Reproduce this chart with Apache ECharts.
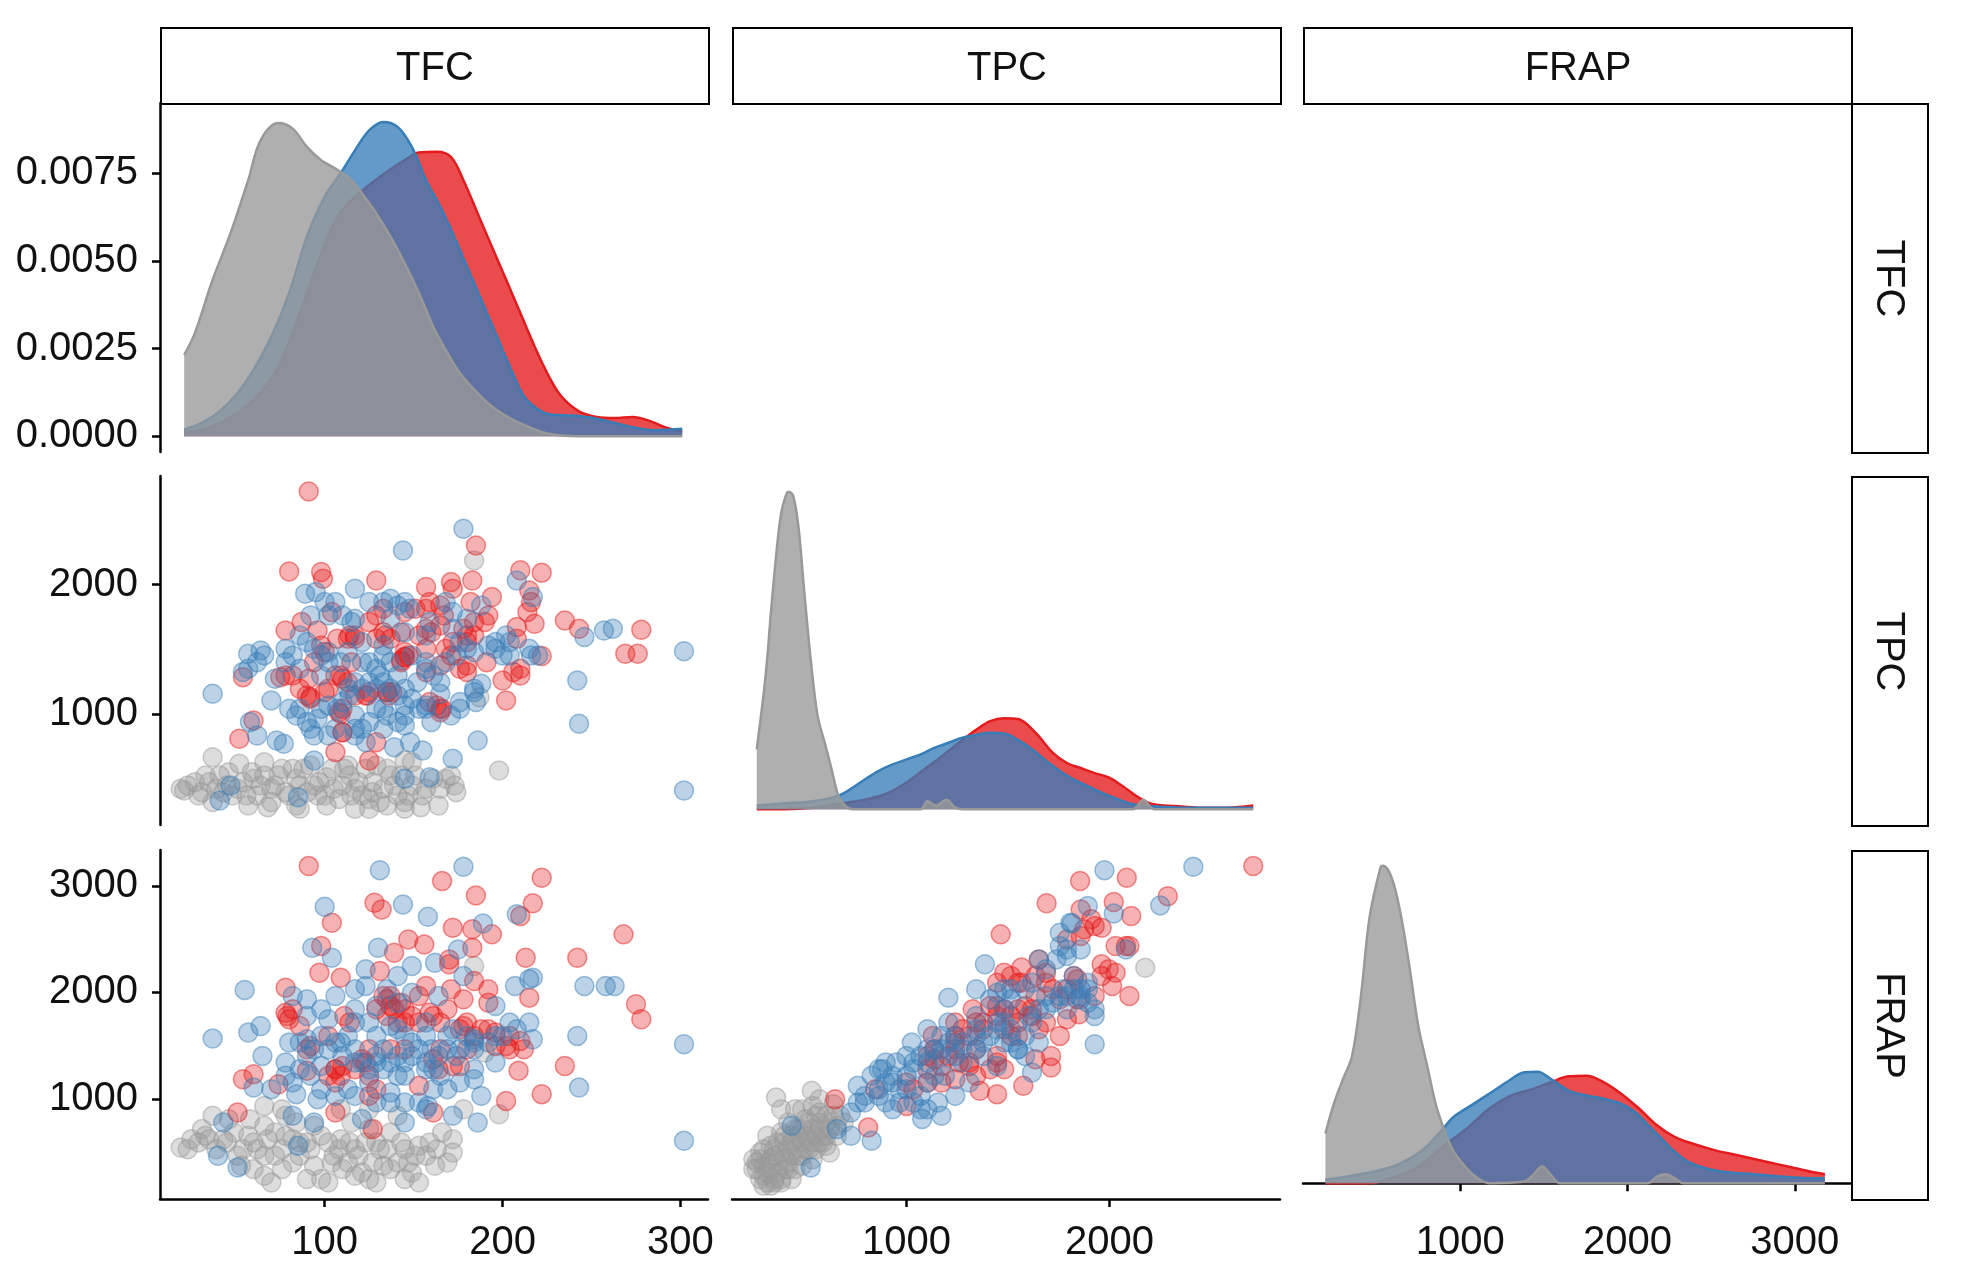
<!DOCTYPE html>
<html>
<head>
<meta charset="utf-8">
<script src="https://cdn.jsdelivr.net/npm/echarts@6/dist/echarts.min.js"></script>
<style>
html, body { margin: 0; padding: 0; background: #fff; }
#main { width: 1969px; height: 1287px; }
</style>
</head>
<body>
<div id="main"></div>
<script>
// variable names (strip labels)
const variables = ['TFC', 'TPC', 'FRAP'];

// tick labels
const tfcTicks = [100, 200, 300];
const tpcTicks = [1000, 2000];
const frapTicks = [1000, 2000, 3000];
const densTicks = [0, 0.0025, 0.005, 0.0075];

// axis ranges (data range + 5%)
const tfcRange = [7.4, 315.5];
const tpcRange = [140, 2840];
const frapRange = [60, 3336];

// density curves, [value, density]
const tfcDensRed = [[21,0.00011],[37,0.00028],[56,0.00085],[72,0.0018],[86,0.00351],[96,0.00493],[106,0.00616],[115,0.00673],[125,0.00716],[135,0.00754],[145,0.00787],[153,0.00809],[163,0.00811],[171,0.00796],[178,0.0073],[186,0.00635],[194,0.0054],[202,0.00446],[210,0.00351],[218,0.00256],[226,0.00171],[233,0.00114],[243,0.00071],[253,0.00055],[263,0.00052],[273,0.00055],[283,0.00043],[292,0.00024],[301,0.00014]];
const tfcDensBlue = [[21,0.00019],[31,0.00038],[41,0.00071],[51,0.00123],[60,0.0019],[70,0.00284],[80,0.00408],[90,0.00569],[100,0.00683],[110,0.00758],[117,0.00815],[125,0.00872],[133,0.00896],[141,0.00882],[149,0.00825],[157,0.0073],[165,0.00654],[172,0.00578],[180,0.00483],[188,0.00389],[196,0.00294],[204,0.00199],[212,0.00114],[220,0.00076],[227,0.00062],[239,0.00059],[251,0.00052],[263,0.00038],[275,0.00024],[286,0.00017],[301,0.00021]];
const tfcDensGray = [[21,0.00232],[27,0.00294],[37,0.00446],[47,0.00578],[57,0.0073],[64,0.00844],[74,0.00893],[82,0.00877],[90,0.00825],[98,0.00787],[106,0.00763],[114,0.00735],[121,0.00692],[129,0.00635],[137,0.00569],[145,0.00493],[153,0.00408],[161,0.00313],[169,0.00237],[176,0.0018],[184,0.00133],[194,0.00085],[204,0.00052],[214,0.00028],[224,0.00009],[233,0.00002],[243,0],[301,0]];

const tpcDensRed = [[262,0],[399,0],[537,0.00002],[657,0.00007],[794,0.00013],[897,0.00021],[1000,0.00037],[1086,0.00055],[1172,0.00073],[1258,0.00092],[1343,0.0011],[1412,0.00122],[1481,0.00126],[1549,0.00125],[1635,0.00106],[1721,0.00078],[1790,0.00064],[1858,0.00057],[1927,0.0005],[1996,0.00044],[2064,0.00032],[2133,0.00018],[2201,0.00008],[2270,0.00005],[2339,0.00004],[2459,0.00002],[2579,0.00002],[2708,0.00005]];
const tpcDensBlue = [[262,0.00005],[399,0.00008],[537,0.00011],[657,0.00018],[725,0.00028],[794,0.00041],[863,0.00053],[931,0.00062],[1000,0.00069],[1069,0.00076],[1137,0.00085],[1206,0.00092],[1275,0.00099],[1343,0.00103],[1412,0.00106],[1481,0.00105],[1549,0.00096],[1618,0.00083],[1687,0.00067],[1755,0.00053],[1824,0.00041],[1893,0.00032],[1961,0.00023],[2030,0.00015],[2099,0.00008],[2167,0.00005],[2270,0.00003],[2373,0.00002],[2545,0.00002],[2708,0.00002]];
const tpcDensGray = [[262,0.00083],[296,0.0016],[314,0.0021],[331,0.0027],[357,0.0035],[382,0.0041],[408,0.00437],[420,0.0044],[442,0.00434],[468,0.0039],[494,0.00308],[528,0.00207],[562,0.00129],[597,0.00092],[631,0.00055],[665,0.00018],[700,0.00004],[734,0],[1069,0],[1103,0.00011],[1146,0.00005],[1197,0.00013],[1240,0.00002],[1275,0],[2116,0],[2167,0.00013],[2219,0],[2708,0]];

const frapDensRed = [[194,0],[458,0],[590,0.0000375],[749,0.000125],[908,0.000288],[1040,0.000413],[1172,0.000563],[1304,0.000663],[1436,0.000713],[1542,0.000763],[1647,0.000808],[1753,0.000813],[1859,0.000763],[1964,0.000675],[2070,0.000563],[2176,0.000438],[2281,0.00035],[2387,0.0003],[2519,0.00025],[2651,0.000213],[2783,0.000175],[2915,0.000138],[3048,0.0001],[3180,0.0000675]];
const frapDensBlue = [[194,0.000025],[326,0.00005],[485,0.0000875],[643,0.00015],[775,0.00025],[881,0.000388],[960,0.0005],[1066,0.000588],[1172,0.000675],[1277,0.000763],[1383,0.000838],[1462,0.000843],[1542,0.000788],[1647,0.0007],[1753,0.000663],[1859,0.000638],[1964,0.0006],[2044,0.000538],[2123,0.000438],[2202,0.000338],[2281,0.000238],[2361,0.000163],[2466,0.000113],[2598,0.0000825],[2757,0.0000675],[2915,0.00005],[3074,0.0000375],[3180,0.0000375]];
const frapDensGray = [[194,0.000375],[247,0.00061],[300,0.00079],[353,0.00096],[406,0.00141],[458,0.00201],[524,0.00239],[538,0.0024],[590,0.00231],[643,0.00204],[696,0.00164],[749,0.00119],[802,0.00089],[855,0.00059],[908,0.00039],[960,0.00024],[1013,0.00015],[1066,0.000075],[1119,0.000025],[1172,0],[1383,0.0000125],[1436,0.0000625],[1489,0.000125],[1542,0.0000625],[1594,0],[2123,0],[2176,0.00005],[2229,0.0000675],[2281,0.0000375],[2334,0],[3180,0]];

// scatter points, [x, y]
const tfcTpcRed = [[91,2721],[185,2303],[80,2102],[98,2097],[99,2045],[129,2032],[157,1981],[171,2019],[172,1968],[183,2032],[210,2110],[222,2092],[194,1903],[215,1955],[216,1865],[214,1787],[218,1697],[235,1723],[243,1658],[278,1650],[269,1465],[276,1465],[222,1447],[210,1349],[200,1258],[202,1104],[78,1645],[87,1710],[54,1284],[52,807],[60,949],[75,1284],[106,704],[125,639],[110,858],[109,1000],[124,1142],[138,1168],[145,1439],[143,1632],[157,1503],[165,1374],[165,1013],[113,1581],[104,1787],[96,1645],[129,1581],[178,1658],[190,1710],[208,1581],[129,781],[92,1129],[102,1194],[82,1297],[117,1607],[134,1607],[145,1478],[143,1400],[160,1632],[168,1503],[180,1607],[191,1400],[176,1349],[117,1142],[135,1168],[109,1297],[94,1400],[180,1323],[107,1581],[125,1710],[151,1813],[192,1761],[208,1671],[165,1684],[157,1323],[159,1091],[166,1039],[86,1194],[91,1271],[113,1245],[172,1555],
    [114,1607],[117,1581],[145,1439],[143,1413],[147,1452],[133,1632],[137,1581],[157,1813],[159,1865],[165,1839],[184,1607],[180,1555],[125,1168],[123,1142],[108,1013],[110,1039],[135,1168],[136,1142],[110,858],[110,1271],[106,1297],[78,1297],[90,1142],[92,1116],[100,1168],[182,1865],[184,1710],[171,1452],[206,1323],[210,1297],[165,1039],[163,1065],[180,1374],[167,1761],[133,1813],[129,1761],[145,1787],[98,1529],[100,1478],[115,1400],[153,1607],[157,1658]];
const tfcTpcBlue = [[178,2432],[144,2264],[208,2032],[117,1968],[89,1929],[95,1942],[217,1903],[257,1645],[262,1658],[246,1594],[302,1485],[242,1258],[243,923],[302,407],[37,1155],[57,1465],[64,1490],[54,1323],[70,1104],[73,794],[77,768],[94,639],[139,742],[155,716],[172,652],[186,794],[145,497],[159,510],[41,329],[47,446],[85,355],[176,1091],[185,1091],[188,1233],[165,1155],[58,936],[62,832],[80,1039],[84,987],[92,884],[102,832],[117,987],[125,936],[133,1039],[145,910],[157,1039],[123,781],[117,884],[145,1065],[129,1194],[98,1297],[86,1349],[78,1503],[90,1555],[102,1478],[109,1400],[121,1400],[131,1297],[141,1297],[152,1245],[117,1736],[125,1865],[137,1890],[148,1813],[168,1865],[172,1787],[188,1839],[196,1555],[204,1555],[215,1503],[200,1452],[184,1478],[174,1452],[157,1607],[145,1632],[133,1529],[121,1555],[113,1478],[102,1761],[92,1761],[100,1865],[137,1736],[159,1710],[180,1736],[168,1400],[157,1400],[113,1194],[160,936],[184,1194],[72,1271],[133,884],[148,781],[107,1039],[96,962],
    [125,1400],[129,1349],[133,1245],[137,1194],[141,1142],[145,1194],[149,1116],[153,1039],[157,1065],[125,1245],[121,1194],[117,1245],[114,1142],[110,1091],[102,1400],[98,1452],[94,1503],[86,1607],[82,1452],[78,1400],[62,1400],[66,1452],[57,1349],[110,1761],[115,1710],[106,1865],[133,1865],[141,1839],[145,1865],[172,1658],[176,1555],[180,1503],[192,1529],[196,1503],[202,1607],[204,1452],[216,1452],[220,1452],[157,1349],[161,1297],[165,1245],[145,987],[141,936],[135,987],[129,1039],[121,884],[117,832],[106,884],[94,832],[90,936],[86,1039],[98,1039],[102,1065],[184,1168],[176,1039],[171,987],[149,1452],[133,1452],[137,1400]];
const tfcTpcGray = [[184,2187],[187,1129],[198,562],[37,665],[21,407],[27,471],[33,523],[39,420],[46,549],[52,613],[56,368],[64,446],[66,626],[68,278],[74,523],[78,394],[82,575],[86,446],[92,600],[96,368],[101,510],[105,420],[111,575],[115,368],[119,471],[125,265],[129,600],[133,420],[137,523],[141,368],[145,639],[149,446],[154,278],[157,420],[164,291],[168,497],[173,446],[19,420],[43,394],[60,497],[70,420],[90,394],[97,471],[110,446],[121,368],[113,600],[127,394],[145,317],[54,471],[84,291],[101,291],[117,265],[135,291],[48,368],[31,394],
    [23,446],[29,368],[35,471],[41,523],[45,446],[51,420],[59,549],[62,368],[66,523],[72,446],[76,575],[80,368],[84,497],[88,575],[94,446],[100,368],[104,575],[108,342],[114,523],[117,420],[123,575],[127,471],[131,317],[135,575],[139,446],[143,523],[147,368],[151,523],[155,368],[161,497],[165,420],[171,523],[174,394],[149,626],[125,342],[86,265],[57,291],[70,317],[37,317],[145,265]];

const tfcFrapRed = [[91,3185],[166,3044],[222,3075],[185,2910],[217,2835],[210,2716],[128,2841],[132,2778],[104,2653],[172,2606],[183,2591],[194,2544],[147,2497],[156,2450],[268,2544],[242,2325],[213,2325],[139,2372],[183,2419],[98,2435],[97,2184],[109,2138],[131,2200],[170,2263],[184,2106],[192,2028],[215,1950],[275,1888],[278,1747],[78,2044],[79,1778],[111,1778],[135,1935],[143,1903],[159,1810],[178,1685],[202,1497],[210,1544],[209,1263],[235,1309],[222,1044],[202,981],[54,1184],[60,1231],[74,1137],[51,872],[90,1263],[106,872],[106,1278],[125,1028],[127,716],[121,1372],[137,1966],[145,1716],[164,1278],[176,1309],[161,872],[153,1122],[192,1653],[196,1497],[157,2059],[170,2309],[139,1841],[125,1466],[92,1497],[109,1216],[137,1466],[178,1935],[86,1685],[102,1591],
    [133,1966],[137,1872],[135,1778],[145,1841],[149,1778],[153,1716],[141,1716],[129,1841],[161,1778],[165,1716],[176,1653],[180,1716],[184,1591],[188,1653],[180,1466],[196,1622],[204,1591],[212,1466],[106,1278],[110,1309],[102,1216],[117,1278],[123,1341],[125,1216],[106,1153],[153,1966],[169,1841],[171,2028],[78,1809],[80,1747],[82,1841],[114,1716],[165,1466],[161,1372],[90,1466],[172,1309],[192,1903],[204,1466],[145,1466],[129,1091]];
const tfcFrapBlue = [[131,3147],[178,3178],[100,2803],[144,2825],[158,2710],[189,2647],[208,2732],[93,2419],[104,2325],[130,2419],[175,2403],[217,2138],[246,2059],[258,2059],[263,2059],[55,2022],[37,1566],[57,1622],[64,1684],[242,1591],[302,1513],[243,1106],[302,606],[65,1403],[43,778],[40,466],[51,356],[85,559],[94,778],[123,2216],[188,1028],[186,778],[172,841],[158,934],[145,778],[121,810],[217,1560],[215,1716],[207,2059],[196,1872],[184,1560],[184,1278],[174,1403],[160,1466],[149,1528],[141,1653],[129,1341],[117,1341],[113,1591],[102,1466],[90,1560],[80,1528],[78,1341],[70,1091],[60,1106],[84,1044],[96,997],[113,1091],[137,1059],[145,1216],[117,1841],[129,1872],[149,1997],[164,1966],[106,1966],[90,1935],[123,2059],[141,2153],[162,2278],[149,2247],[102,1747],[129,1591],[157,1716],[172,1653],[204,1716],[196,1341],[184,1466],[157,1278],[92,1216],[125,1153],[164,1403],[117,2028],[135,2028],[109,1528],[141,1403],[82,841],[98,1309],[133,1466],[178,2153],[196,1591],[215,2122],[153,966],
    [86,1528],[90,1403],[94,1466],[98,1591],[106,1528],[110,1403],[117,1466],[121,1341],[125,1278],[129,1403],[133,1278],[137,1341],[141,1216],[145,1341],[149,1403],[153,1466],[157,1341],[161,1278],[165,1216],[169,1466],[176,1466],[180,1591],[184,1528],[192,1528],[200,1591],[208,1653],[78,1216],[82,1153],[86,1278],[98,1091],[106,1028],[117,1028],[129,966],[137,966],[145,966],[157,903],[161,1091],[169,1091],[176,1153],[184,1184],[137,1684],[125,1716],[117,1716],[145,1591],[157,1591],[169,1591],[98,1841],[90,1778],[82,1966],[141,1903]];
const tfcFrapGray = [[184,2247],[198,856],[19,544],[25,622],[31,716],[37,841],[43,622],[49,684],[54,528],[60,591],[66,934],[66,278],[70,215],[72,684],[76,528],[78,841],[82,622],[86,466],[90,591],[94,372],[98,247],[102,591],[105,466],[109,622],[113,403],[117,528],[121,309],[125,716],[129,591],[133,372],[137,684],[141,403],[145,528],[149,309],[153,215],[157,466],[162,372],[166,684],[172,622],[178,903],[190,1435],[58,809],[76,903],[84,778],[102,215],[125,247],[137,341],[46,809],[33,653],[109,903],[94,747],[153,559],[117,278],[66,466],[141,841],
    [23,528],[29,591],[35,622],[39,528],[45,591],[51,466],[57,653],[62,528],[68,622],[72,466],[78,653],[82,403],[86,591],[92,528],[98,653],[104,403],[108,528],[114,591],[119,466],[123,591],[127,403],[131,528],[135,528],[143,591],[147,403],[151,466],[159,591],[163,528],[169,403],[172,497],[53,372],[60,341],[76,341],[90,247],[110,341],[129,215],[145,247],[66,747],[115,778],[125,903]];

const tpcFrapRed = [[2708,3185],[1855,3044],[2085,3075],[1690,2835],[2021,2847],[2107,2716],[2287,2903],[1464,2544],[1858,2778],[1910,2685],[1961,2606],[1790,2497],[2030,2435],[2081,2435],[1961,2263],[2030,2184],[2098,1966],[1841,2122],[1850,1794],[1481,2184],[1566,2232],[1652,2309],[1687,2091],[1755,1935],[1618,1841],[1549,1716],[1446,1872],[1326,1841],[1240,1716],[1378,1716],[1129,1591],[1240,1528],[1137,1372],[1258,1341],[1446,1403],[1481,1278],[1635,1372],[1712,1403],[1712,1294],[1755,1591],[1575,1122],[1446,1044],[1361,1075],[1240,1184],[1172,1153],[1000,934],[846,1091],[648,997],[811,731],[2098,2435],[1103,1278],[1343,1466],[1515,1591],[1549,2091],[1446,2091],[1635,1966],[1309,1309],[1000,1153],[1841,1935],[1927,1966],[1790,1747],
    [1412,1872],[1446,1778],[1481,1841],[1515,1778],[1549,1841],[1584,1872],[1618,1778],[1652,1653],[1687,1716],[1549,1591],[1481,1653],[1378,1653],[1343,1716],[1309,1591],[1275,1653],[1240,1466],[1206,1403],[1172,1309],[1103,1403],[1137,1466],[1309,1341],[1343,1216],[1412,1278],[1446,1341],[1515,2153],[1566,2091],[1635,2153],[1687,2184],[1721,2028],[1790,2028],[1824,2153],[1858,2528],[1875,2591],[1927,2622],[1961,2153],[1996,2216],[2013,2059],[1103,1153],[1034,1091],[1240,1591]];
const tpcFrapBlue = [[2413,3178],[1975,3147],[2250,2816],[2021,2741],[1893,2810],[1815,2647],[2081,2403],[1386,2263],[1790,2403],[1738,2309],[1206,1950],[1343,2028],[1927,1778],[1927,1513],[1893,2091],[1618,1247],[1026,1528],[760,1122],[828,606],[528,356],[1077,810],[949,1341],[897,1153],[966,966],[1069,1028],[1155,966],[1240,1028],[1103,1153],[1172,1403],[1275,1528],[1343,1591],[1446,1716],[1515,1653],[1549,1466],[1481,1528],[1412,1935],[1515,2028],[1618,2091],[1687,1966],[1772,2028],[1858,1935],[1652,2309],[1755,2435],[794,966],[726,872],[880,1278],[1034,1278],[1189,1216],[1309,1153],[1446,1309],[1584,1403],[1652,1528],[1601,1778],[1481,1841],[1343,1778],[1240,1591],[1137,1466],[1000,1403],[863,1091],[931,1216],[1103,903],[657,716],[726,653],[434,747],[1481,2028],[1824,2153],[1103,1653],[1206,1716],[1790,1841],[1858,2028],[1378,1403],[1172,841],[1000,1091],[1275,1341],[1687,2216],
    [828,1216],[863,1278],[897,1341],[931,1153],[966,1091],[1000,1216],[1034,1341],[1069,1403],[1103,1341],[1137,1216],[1172,1466],[1206,1528],[1240,1403],[1275,1466],[1343,1653],[1378,1528],[1412,1591],[1446,1653],[1481,1716],[1515,1528],[1549,1466],[1584,1591],[1618,1716],[1652,1841],[1687,1841],[1721,1903],[1755,1966],[1790,1966],[1824,2028],[1858,1966],[1893,2028],[897,966],[931,903],[1034,966],[1069,903],[794,1028],[760,966],[863,1028],[1858,2403],[1790,2341],[1755,2560],[1807,2653],[1927,1841],[1893,1903],[1172,1591],[1103,1466],[1515,1935],[1446,1997],[1584,2028],[1343,1466]];
const tpcFrapGray = [[2176,2231],[357,1012],[533,1075],[640,950],[451,903],[262,403],[296,278],[331,184],[382,215],[279,497],[314,653],[348,528],[399,591],[434,466],[468,653],[502,528],[537,716],[571,591],[605,778],[622,497],[485,372],[417,341],[365,403],[554,841],[502,809],[451,716],[382,684],[331,434],[296,372],[537,434],[588,653],[485,591],[417,528],[365,309],[434,247],[245,341],[314,215],[691,778],[657,653],[571,778],[520,622],[468,466],[399,434],[348,247],[279,247],[605,559],[485,903],[537,934],[571,997],[417,778],[382,903],[640,841],[331,341],[434,653],[554,528],
    [262,341],[279,434],[296,528],[314,403],[331,559],[348,466],[365,591],[382,497],[399,653],[417,403],[434,591],[451,528],[468,716],[485,466],[502,653],[520,528],[537,591],[554,653],[571,716],[588,591],[605,653],[622,716],[657,747],[674,841],[399,341],[348,215],[296,184],[451,341],[520,778],[485,716],[571,872],[605,841],[382,247],[314,309],[245,434]];

// layout
const colLeft = [160, 732, 1303];
const rowTop = [103, 476, 850];
const panelW = 548;
const panelH = 349;
const stripSize = 76;
const font = "'Liberation Sans', Arial, sans-serif";
const fontSize = 40;
const colors = { red: '#E41A1C', blue: '#377EB8', gray: '#999999' };

function rgba(hex, a) {
    const n = parseInt(hex.slice(1), 16);
    return `rgba(${n >> 16},${(n >> 8) & 255},${n & 255},${a})`;
}

// grids: [row, col]
const cells = [[0, 0], [1, 0], [1, 1], [2, 0], [2, 1], [2, 2]];
const grids = cells.map(([r, c]) => ({
    left: colLeft[c], top: rowTop[r], width: panelW, height: panelH
}));

const varRange = [tfcRange, tpcRange, frapRange];
const varTicks = [tfcTicks, tpcTicks, frapTicks];
const densRange = [[-0.00045, 0.0095], [-0.00022, 0.00462], [-0.00012, 0.00252]];

function axis(gridIndex, range, ticks, show, margin, fmt) {
    return {
        type: 'value', gridIndex, min: range[0], max: range[1],
        axisLine: { show, lineStyle: { color: '#000', width: 2.5 } },
        axisTick: { show, length: 8, lineStyle: { color: '#000', width: 2.5 }, customValues: ticks },
        axisLabel: {
            show, customValues: ticks, fontSize, color: '#111', fontFamily: font,
            margin, formatter: fmt || (v => String(v))
        },
        splitLine: { show: false }
    };
}

const xAxes = cells.map(([r, c], i) => axis(i, varRange[c], varTicks[c], r === 2, 24));
const yAxes = cells.map(([r, c], i) => {
    if (r === c) {
        if (c === 0) return axis(i, densRange[0], densTicks, true, 22, v => v.toFixed(4));
        return axis(i, densRange[c], [], false, 22);
    }
    return axis(i, varRange[r], varTicks[r], c === 0, 22);
});

function dens(i, data, col, z) {
    return {
        type: 'line', xAxisIndex: i, yAxisIndex: i, data, showSymbol: false,
        smooth: 0.35, z,
        lineStyle: { color: col, width: 2.5 },
        areaStyle: { color: col, opacity: 0.78 }
    };
}
function pts(i, data, col, z) {
    return {
        type: 'scatter', xAxisIndex: i, yAxisIndex: i, data, symbolSize: 19, z,
        itemStyle: { color: rgba(col, 0.42), borderColor: rgba(col, 0.6), borderWidth: 1.5 }
    };
}

const series = [
    dens(0, tfcDensRed, colors.red, 2), dens(0, tfcDensBlue, colors.blue, 3), dens(0, tfcDensGray, colors.gray, 4),
    pts(1, tfcTpcGray, colors.gray, 2), pts(1, tfcTpcRed, colors.red, 3), pts(1, tfcTpcBlue, colors.blue, 4),
    dens(2, tpcDensRed, colors.red, 2), dens(2, tpcDensBlue, colors.blue, 3), dens(2, tpcDensGray, colors.gray, 4),
    pts(3, tfcFrapGray, colors.gray, 2), pts(3, tfcFrapRed, colors.red, 3), pts(3, tfcFrapBlue, colors.blue, 4),
    pts(4, tpcFrapGray, colors.gray, 2), pts(4, tpcFrapRed, colors.red, 3), pts(4, tpcFrapBlue, colors.blue, 4),
    dens(5, frapDensRed, colors.red, 2), dens(5, frapDensBlue, colors.blue, 3), dens(5, frapDensGray, colors.gray, 4)
];

// facet strips, top and right
const graphic = [];
variables.forEach((name, k) => {
    graphic.push({
        type: 'group', left: colLeft[k], top: rowTop[0] - stripSize,
        children: [
            { type: 'rect', shape: { x: 0, y: 0, width: panelW, height: stripSize }, style: { fill: '#fff', stroke: '#000', lineWidth: 2 } },
            { type: 'text', x: panelW / 2, y: stripSize / 2 + 3, style: { text: name, font: `${fontSize}px ${font}`, fill: '#111', align: 'center', verticalAlign: 'middle' } }
        ]
    });
    graphic.push({
        type: 'group', left: colLeft[2] + panelW, top: rowTop[k],
        children: [
            { type: 'rect', shape: { x: 0, y: 0, width: stripSize, height: panelH }, style: { fill: '#fff', stroke: '#000', lineWidth: 2 } },
            { type: 'text', x: stripSize / 2 - 2, y: panelH / 2, rotation: -Math.PI / 2, style: { text: name, font: `${fontSize}px ${font}`, fill: '#111', align: 'center', verticalAlign: 'middle' } }
        ]
    });
});

const myChart = echarts.init(document.getElementById('main'), null, { renderer: 'canvas' });
myChart.setOption({
    backgroundColor: '#fff',
    animation: false,
    grid: grids,
    xAxis: xAxes,
    yAxis: yAxes,
    series,
    graphic
});
</script>
</body>
</html>
